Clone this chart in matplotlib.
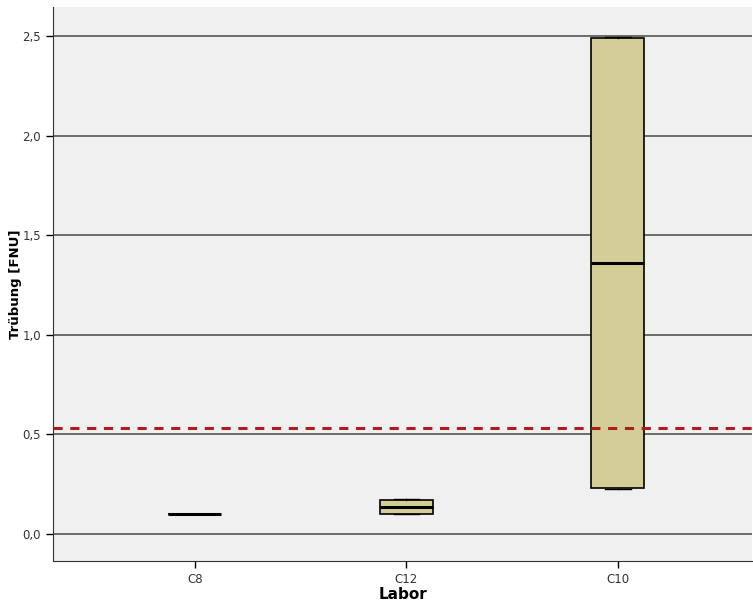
import matplotlib
matplotlib.use("Agg")
import matplotlib.pyplot as plt
from matplotlib.ticker import FuncFormatter

labs = ["C8", "C12", "C10"]
q1 = [0.10, 0.10, 0.23]
med = [0.10, 0.135, 1.36]
q3 = [0.10, 0.17, 2.49]
wlo = [0.10, 0.10, 0.225]
whi = [0.10, 0.175, 2.495]
limit = 0.53

yticks = [0.0, 0.5, 1.0, 1.5, 2.0, 2.5]


def main():
    fig = plt.figure(figsize=(7.53, 6.09), dpi=100)
    ax = fig.add_axes([53 / 753, 48 / 609, 1 - 53 / 753 - 0.001, (561 - 7) / 609])
    ax.set_facecolor("#f0f0f0")

    for t in yticks:
        ax.axhline(t, color="#555555", lw=1.2, zorder=1)

    stats = []
    for i in range(len(labs)):
        stats.append({"q1": q1[i], "med": med[i], "q3": q3[i],
                      "whislo": wlo[i], "whishi": whi[i], "fliers": [], "label": labs[i]})
    ax.bxp(stats, positions=range(len(labs)), widths=0.25, patch_artist=True,
           boxprops=dict(facecolor="#d3ce97", edgecolor="black", lw=1.2),
           medianprops=dict(color="black", lw=2.2),
           whiskerprops=dict(color="black", lw=1),
           capprops=dict(color="black", lw=1), capwidths=0.12,
           zorder=3)

    ax.axhline(limit, color="#b01c1c", lw=2.2, ls=(0, (3, 2.5)), zorder=4)

    ax.set_xlim(-0.67, 2.635)
    ax.set_ylim(-0.136, 2.646)
    ax.set_yticks(yticks)
    ax.yaxis.set_major_formatter(FuncFormatter(lambda v, p: ("%.1f" % v).replace(".", ",")))
    ax.tick_params(axis="both", labelsize=8.5, colors="black", length=5, width=1)
    ax.tick_params(axis="both", labelcolor="#333333")
    for s in ["top", "right"]:
        ax.spines[s].set_visible(False)
    for s in ["left", "bottom"]:
        ax.spines[s].set_color("#333333")

    ax.set_xlabel("Labor", fontsize=11, fontweight="bold", labelpad=1)
    ax.set_ylabel("Trübung [FNU]", fontsize=9.5, fontweight="bold")
    ax.yaxis.set_label_coords(-31 / 700, 0.5)

    fig.savefig("out.png", dpi=100)


main()
